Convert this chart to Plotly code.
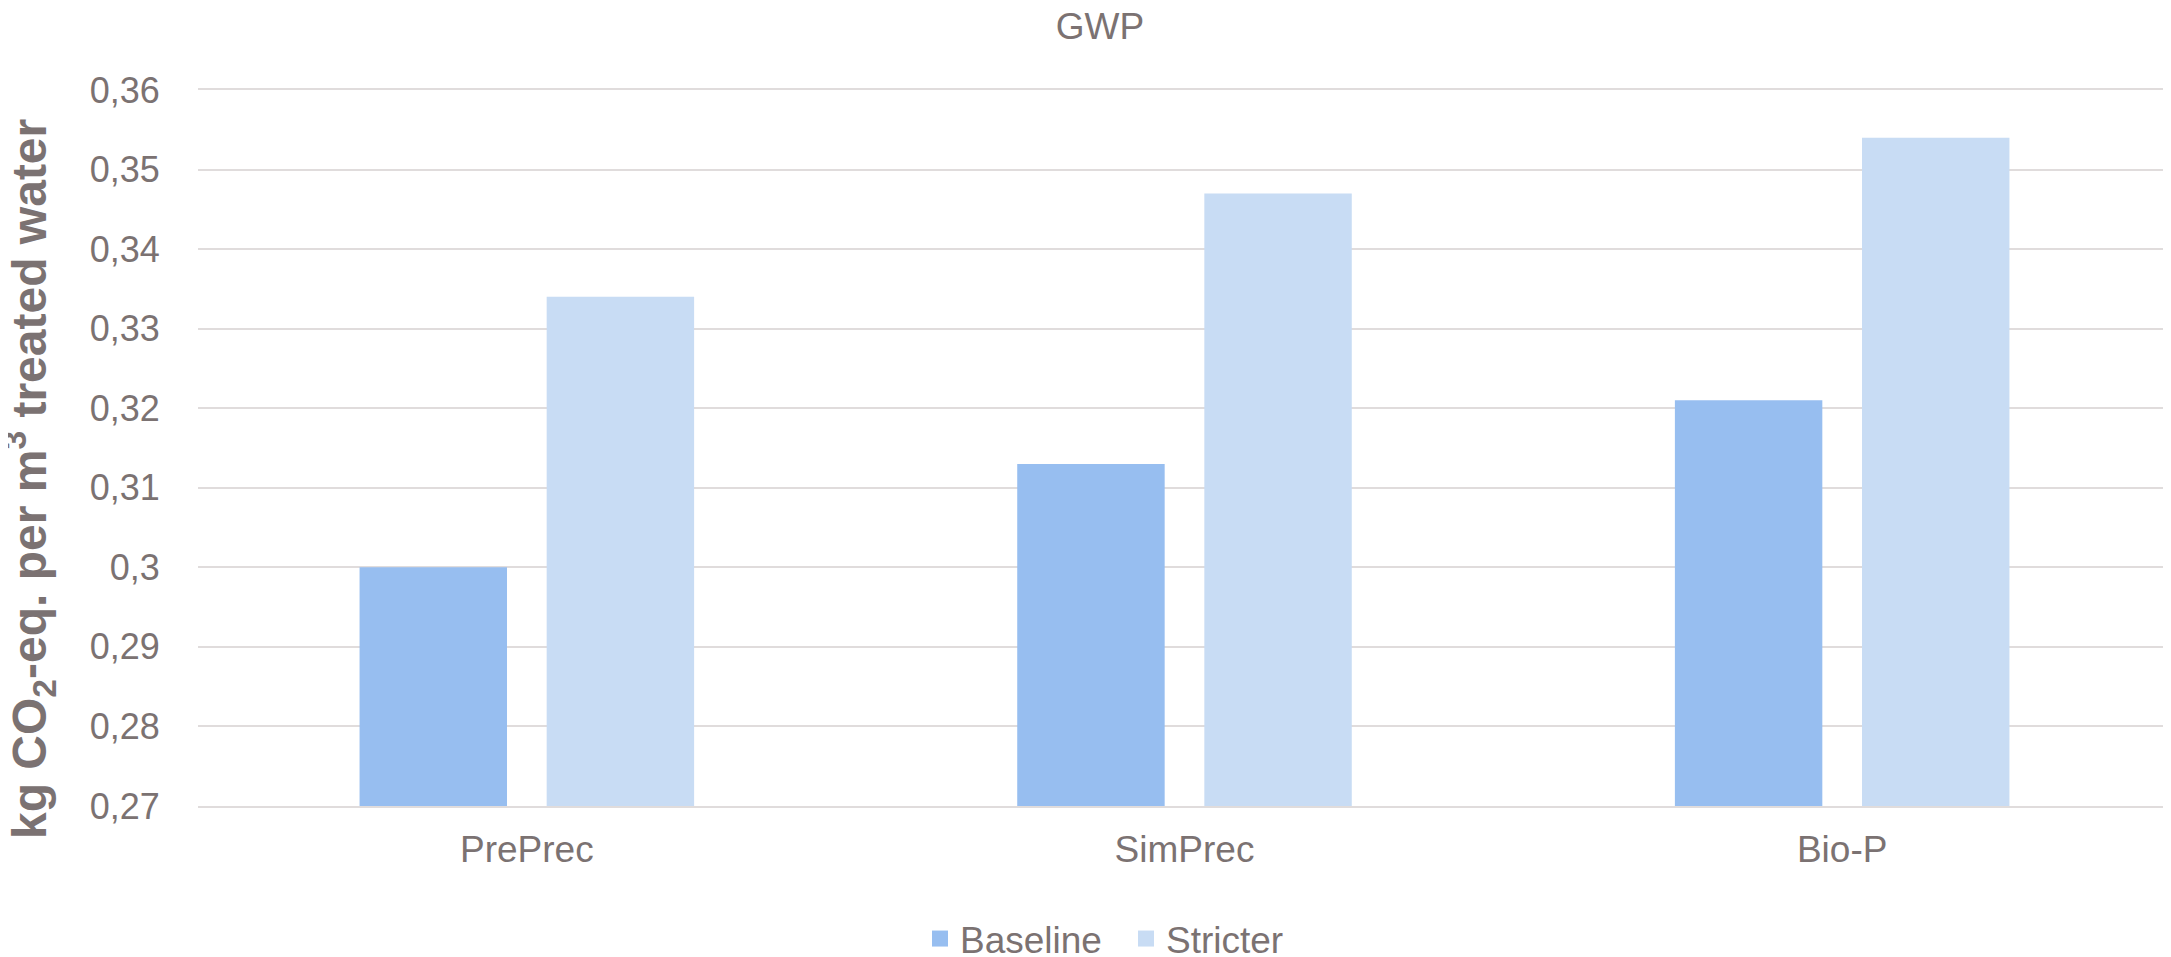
import plotly.graph_objects as go

categories = ["PrePrec", "SimPrec", "Bio-P"]
baseline = [0.300, 0.313, 0.321]
stricter = [0.334, 0.347, 0.354]
series_names = ["Baseline", "Stricter"]
tick_vals = [0.27, 0.28, 0.29, 0.30, 0.31, 0.32, 0.33, 0.34, 0.35, 0.36]
tick_text = ["0,27", "0,28", "0,29", "0,3", "0,31", "0,32", "0,33", "0,34", "0,35", "0,36"]

C_BASE = "#97BEF0"
C_STRICT = "#C8DCF4"
TXT = "#7B7272"
GRID = "#E0DCDC"
FONT = "Liberation Sans, Arial, sans-serif"

# the page body has an 8px default margin; figure is sized to fill the rest
W, H = 2163, 949
L, T, B = 190, 82, 151
PW, PH = W - L, H - T - B

fig = go.Figure()
fig.add_trace(go.Bar(x=categories, y=baseline, name=series_names[0],
                     marker=dict(color=C_BASE, line=dict(width=0)), showlegend=False))
fig.add_trace(go.Bar(x=categories, y=stricter, name=series_names[1],
                     marker=dict(color=C_STRICT, line=dict(width=0)), showlegend=False))
# legend entries with larger square symbols
for nm, col in zip(series_names, [C_BASE, C_STRICT]):
    fig.add_trace(go.Scatter(x=[None], y=[None], mode="markers", name=nm,
                             marker=dict(symbol="square", size=19, color=col, line=dict(width=0)),
                             showlegend=True))

fig.update_layout(
    width=W, height=H,
    margin=dict(l=L, r=0, t=T, b=B, autoexpand=False),
    paper_bgcolor="white", plot_bgcolor="white",
    font=dict(family=FONT, size=36, color=TXT),
    barmode="group", bargap=0.431, bargroupgap=0.212,
    title=dict(text="GWP", x=1092/W, xref="container", xanchor="center",
               y=1-18/H, yref="container", yanchor="middle",
               font=dict(size=37, color=TXT, family=FONT)),
    legend=dict(orientation="h", x=1118/W, xref="container", xanchor="center",
                y=1-931/H, yref="container", yanchor="middle",
                font=dict(size=37, color=TXT),
                entrywidth=161, entrywidthmode="pixels"),
    showlegend=True,
)
fig.update_xaxes(showgrid=False, showline=True, mirror=True, linecolor=GRID, linewidth=2,
                 ticks="outside", ticklen=10, tickcolor="rgba(0,0,0,0)",
                 tickfont=dict(size=37, color=TXT), fixedrange=True)
fig.update_yaxes(range=[0.27, 0.36], tickvals=tick_vals, ticktext=tick_text,
                 showgrid=True, gridcolor=GRID, gridwidth=2, zeroline=False,
                 showline=False, ticks="outside", ticklen=30, tickcolor="rgba(0,0,0,0)",
                 tickfont=dict(size=36, color=TXT))
fig.add_annotation(text="kg CO<sub>2</sub>-eq. per m<sup>3</sup> treated water",
                   xref="paper", yref="paper", x=(22-L)/PW, y=(T+PH-471)/PH,
                   xanchor="center", yanchor="middle", textangle=-90, showarrow=False,
                   font=dict(size=48, color=TXT, family=FONT, weight="bold"))

fig.write_html("out.html")
